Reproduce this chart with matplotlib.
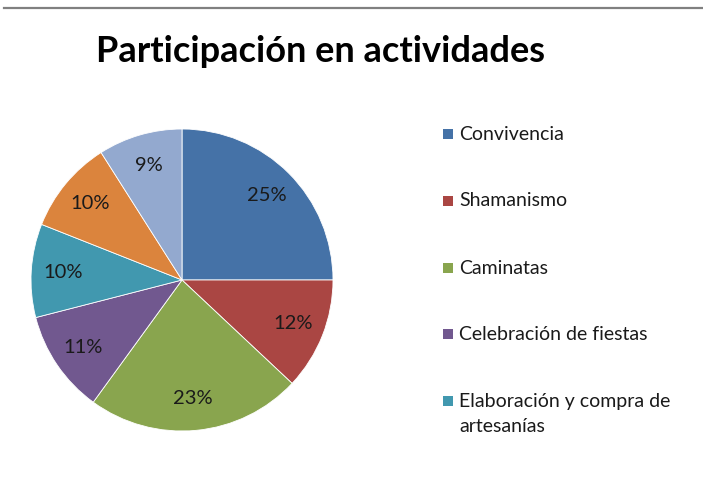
import numpy as np
import matplotlib.pyplot as plt
from matplotlib.patches import Rectangle
from matplotlib.lines import Line2D

plt.rcParams['font.family'] = ['Lato', 'DejaVu Sans']

# participación por actividad (%)
actividades = ['Convivencia', 'Shamanismo', 'Caminatas', 'Celebración de fiestas',
               'Elaboración y compra de\nartesanías']
porcentajes = [25, 12, 23, 11, 10, 10, 9]
colores = ['#4572A7', '#AA4643', '#89A54E', '#71588F', '#4198AF', '#DB843D', '#93A9CF']

W, H = 703, 478
fig = plt.figure(figsize=(W / 100, H / 100), dpi=100)

def px(x, y):
    return x / W, 1 - y / H

# línea superior
fig.add_artist(Line2D([4 / W, 1], [1 - 7.5 / H] * 2, color='#808080', lw=1.6,
                      transform=fig.transFigure))

fig.text(*px(320, 51), 'Participación en actividades', ha='center', va='center',
         fontsize=26, fontweight='bold', color='black')

ax = fig.add_axes([31 / W, 1 - 431 / H, 302 / W, 302 / H])
wedges, _ = ax.pie(porcentajes, colors=colores, startangle=90, counterclock=False,
                   radius=1, wedgeprops=dict(edgecolor='white', linewidth=0.6))
for w, p in zip(wedges, porcentajes):
    ang = np.deg2rad((w.theta1 + w.theta2) / 2)
    ax.text(0.79 * np.cos(ang), 0.79 * np.sin(ang), f'{p}%', ha='center', va='center',
            fontsize=14.5, color='#1a1a1a')
ax.set_xlim(-1, 1)
ax.set_ylim(-1, 1)
ax.set_aspect('equal')
ax.axis('off')

# leyenda (solo las primeras cinco entradas)
ys = [134, 201, 268, 334, 401]
for y, nombre, c in zip(ys, actividades, colores):
    x0, y0 = px(443, y + 5)
    fig.add_artist(Rectangle((x0, y0), 10 / W, 10 / H, facecolor=c, edgecolor='none',
                             transform=fig.transFigure))
    for k, linea in enumerate(nombre.split('\n')):
        fig.text(*px(459, y + 25 * k), linea, ha='left', va='center',
                 fontsize=14, color='#1a1a1a')

fig.savefig('out.png', dpi=100, facecolor='white')
